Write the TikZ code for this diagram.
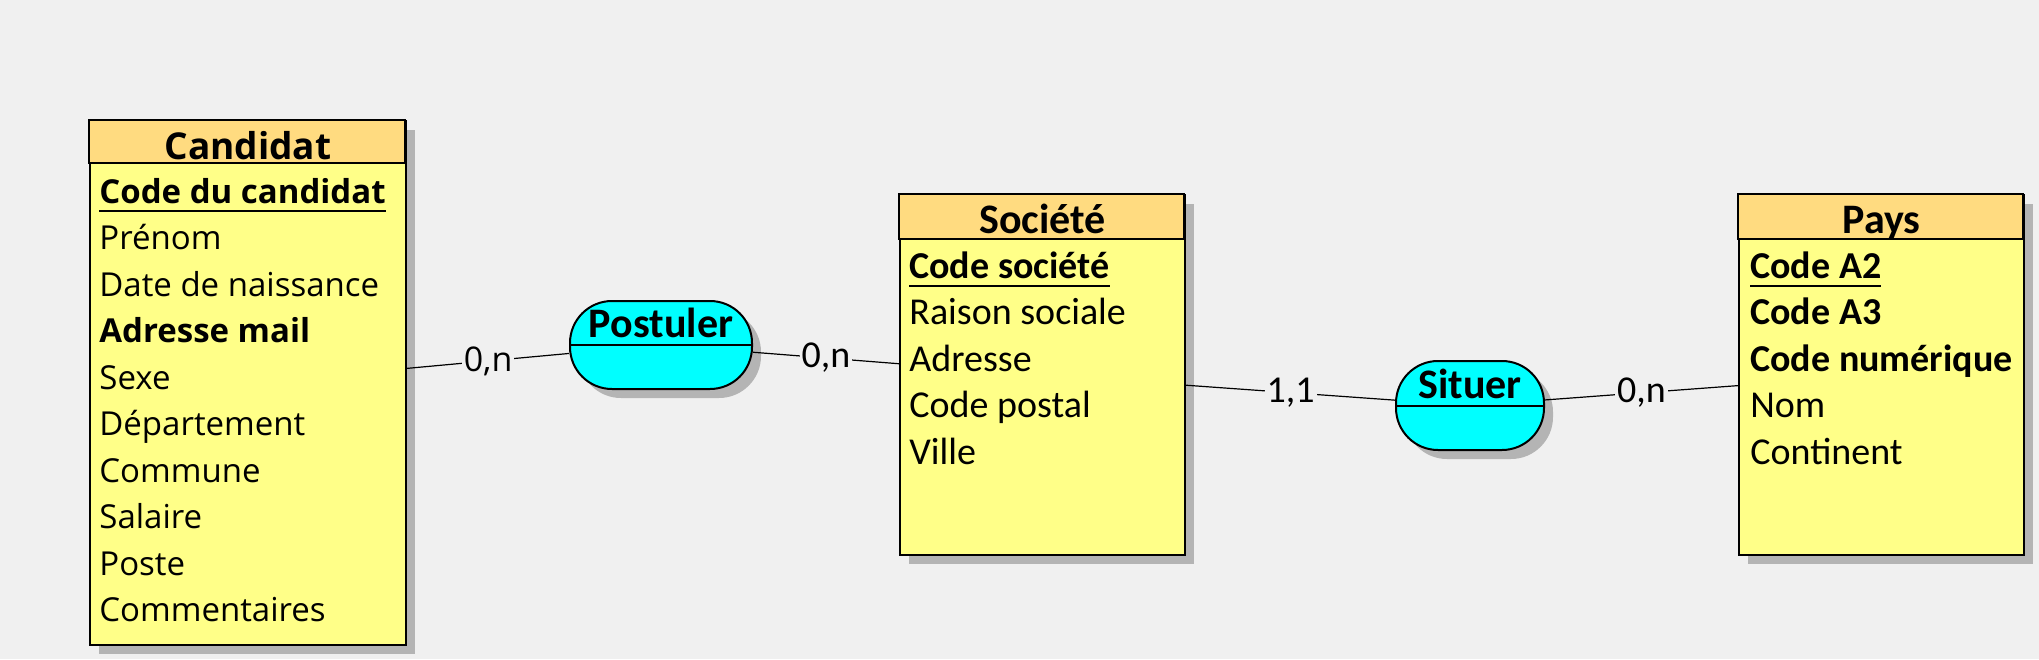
\documentclass[tikz,border=0pt]{standalone}
\usepackage{fontspec}
\setmainfont{Carlito}
\newfontfamily\segoe{Open Sans}
\usepackage{tikz}
\usetikzlibrary{shadows}
\definecolor{fond}{HTML}{F0F0F0}
\definecolor{entete}{HTML}{FFDB80}
\definecolor{corps}{HTML}{FFFF88}
\definecolor{cyan}{HTML}{00FFFF}
\definecolor{ombre}{HTML}{B4B4B4}
\newcommand\souligne[1]{\setbox0\hbox{#1}\rlap{\rule[-4.5pt]{\wd0}{1pt}}\box0}

\begin{document}
\begin{tikzpicture}[x = .5pt, y = -.5pt,
  ombrage/.style = {drop shadow = {shadow xshift = 4.5pt, shadow yshift = -4.5pt, fill = ombre, opacity = 1}},
  entite/.style = {draw, line width = 1.2pt, fill = corps, inner sep = 0, ombrage},
  asso/.style = {draw, line width = 1pt, fill = cyan, inner sep = 0, rounded corners = 21pt, ombrage},
  titre/.style = {anchor = base, inner sep = 0, font = \fontsize{21pt}{25pt}\selectfont\bfseries},
  attr/.style = {anchor = base west, inner sep = 0, font = \fontsize{19pt}{23pt}\selectfont},
  card/.style = {fill = fond, inner sep = 1pt, font = \fontsize{19pt}{23pt}\selectfont},
  lien/.style = {line width = .6pt}]
 \fill[fond] (0, 0) rectangle (2039, 659);
 % entites
 \node[entite, minimum width = 158pt, minimum height = 262pt] (candidat) at (248, 383) {};
 \filldraw[fill = entete, line width = 1.2pt] (candidat.north west) rectangle ++(316, 43);
 \node[titre, font = \fontsize{18.5pt}{22pt}\segoe\bfseries] (candidat-titre) at (248, 159) {Candidat};
 \foreach \txt [count = \i from 0] in {\textbf{\souligne{Code du candidat}}, Prénom, Date de naissance, \textbf{Adresse mail}, Sexe, Département, Commune, Salaire, Poste, Commentaires}
  \node[attr, font = \fontsize{16.5pt}{20pt}\segoe] (candidat-\i) at (99, 203 + 46.5*\i) {\txt};

 \node[entite, minimum width = 142.5pt, minimum height = 180pt] (societe) at (1042.5, 375) {};
 \filldraw[fill = entete, line width = 1.2pt] (societe.north west) rectangle ++(285, 45);
 \node[titre] (societe-titre) at (1042.5, 233) {Société};
 \foreach \txt [count = \i from 0] in {\textbf{\souligne{Code société}}, Raison sociale, Adresse, Code postal, Ville}
  \node[attr] (societe-\i) at (909, 278 + 46.5*\i) {\txt};

 \node[entite, minimum width = 142.5pt, minimum height = 180pt] (pays) at (1881.5, 375) {};
 \filldraw[fill = entete, line width = 1.2pt] (pays.north west) rectangle ++(285, 45);
 \node[titre] (pays-titre) at (1881.5, 233) {Pays};
 \foreach \txt [count = \i from 0] in {\textbf{\souligne{Code A2}}, \textbf{Code A3}, \textbf{Code numérique}, Nom, Continent}
  \node[attr] (pays-\i) at (1750, 278 + 46.5*\i) {\txt};

 % associations
 \node[asso, minimum width = 91pt, minimum height = 44pt] (postuler) at (661, 345) {};
 \draw[line width = 1pt] (postuler.west) -- (postuler.east);
 \node[titre] (postuler-titre) at (661, 337) {Postuler};

 \node[asso, minimum width = 74pt, minimum height = 44.5pt] (situer) at (1470, 405.5) {};
 \draw[line width = 1pt] (situer.west) -- (situer.east);
 \node[titre] (situer-titre) at (1470, 398) {Situer};

 % liens
 \draw[lien] (candidat) -- node[card, font = \fontsize{17pt}{20pt}\segoe] (card-1) {0,n} (postuler);
 \draw[lien] (postuler) -- node[card] (card-2) {0,n} (societe);
 \draw[lien] (societe) -- node[card] (card-3) {1,1} (situer);
 \draw[lien] (situer) -- node[card] (card-4) {0,n} (pays);
\end{tikzpicture}
\end{document}
